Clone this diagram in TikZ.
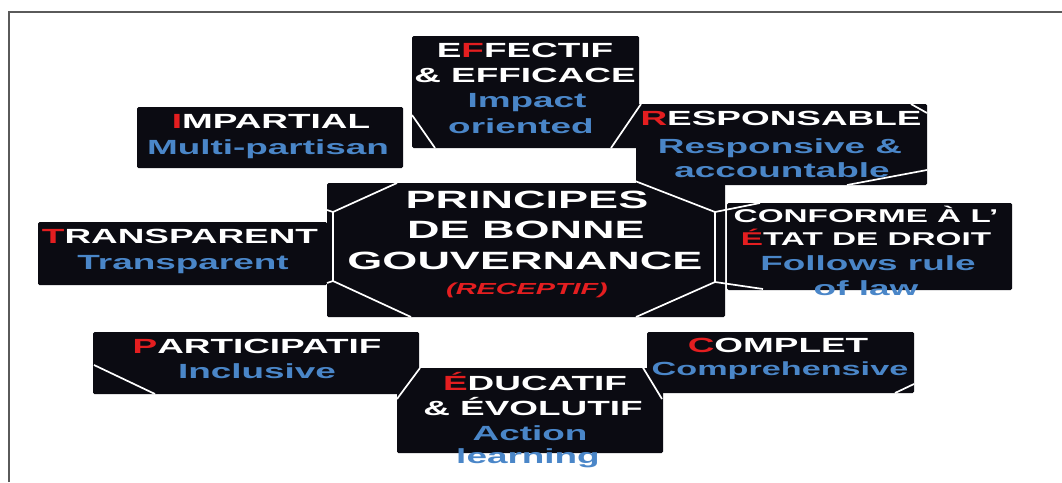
\documentclass[tikz,border=0pt]{standalone}
\usepackage{fontspec}
\setmainfont{Liberation Sans}[FakeStretch=1.8]
\usetikzlibrary{positioning}

\definecolor{boxblack}{HTML}{0B0B12}
\definecolor{engblue}{HTML}{4A86C8}
\definecolor{capred}{HTML}{E41E20}
\definecolor{framegray}{HTML}{5A5A5A}
\newcommand{\redcap}[1]{\textcolor{capred}{#1}}

\begin{document}
\begin{tikzpicture}[x=1pt, y=-1pt,
  box/.style={fill=boxblack, draw=none, inner sep=0pt, rounded corners=1.5pt},
  cut/.style={draw=white, line width=1.7pt},
  fr/.style={text=white, anchor=base, inner sep=0pt, font=\bfseries\fontsize{20.5}{24}\selectfont},
  en/.style={fr, text=engblue},
  big/.style={fr, font=\bfseries\fontsize{25}{30}\selectfont}]
\useasboundingbox (0,0) rectangle (1062,482);
\draw[framegray, line width=1.6pt] (9,482) -- (9,12) -- (1062,12);

% black boxes
\node[box, minimum width=266pt, minimum height=61pt]  (impartial)    at (270,137.5) {};
\node[box, minimum width=227pt, minimum height=112pt] (effectif)     at (525.5,92)  {};
\node[box, minimum width=291pt, minimum height=81pt]  (responsable)  at (781.5,144.5) {};
\node[box, minimum width=398pt, minimum height=134pt] (principes)    at (526,250)   {};
\node[box, minimum width=289pt, minimum height=63pt]  (transparent)  at (182.5,253.5) {};
\node[box, minimum width=285pt, minimum height=87pt]  (conforme)     at (869.5,246.5) {};
\node[box, minimum width=326pt, minimum height=62pt]  (participatif) at (256,363)   {};
\node[box, minimum width=267pt, minimum height=61pt]  (complet)      at (780.5,362.5) {};
\node[box, minimum width=266pt, minimum height=85pt]  (educatif)     at (530,410.5) {};

% octagon
\coordinate (o1) at (397,183);
\coordinate (o2) at (333,212);
\coordinate (o3) at (333,281);
\coordinate (o4) at (411,317);
\coordinate (o5) at (636,317);
\coordinate (o6) at (715,282);
\coordinate (o7) at (715,212);
\coordinate (o8) at (635,181);
\draw[cut] (o1) -- (o2) -- (o3) -- (o4);
\draw[cut] (o5) -- (o6) -- (o7) -- (o8);
\draw[cut] (o2) -- (327,210);
\draw[cut] (o3) -- (327,283);
\draw[cut] (o7) -- (760,203);
\draw[cut] (o6) -- (763,289);

% corner cuts
\draw[cut] (412,115) -- (435,148);
\draw[cut] (611,148) -- (641,104);
\draw[cut] (911,104) -- (927,113);
\draw[cut] (847,185) -- (927,170);
\draw[cut] (94,365) -- (155,394);
\draw[cut] (397,399) -- (420,368);
\draw[cut] (642,366) -- (662,399);
\draw[cut] (895,393) -- (914,384);

% texts
\node[fr] (eff1) at (525,57)  {E\redcap{F}FECTIF};
\node[fr] (eff2) at (525,82)  {\& EFFICACE};
\node[en] (eff3) at (527,107) {Impact};
\node[en] (eff4) at (521,133) {oriented};

\node[fr] (imp1) at (271,128) {\redcap{I}MPARTIAL};
\node[en] (imp2) at (268,154) {Multi-partisan};

\node[fr] (res1) at (781,125) {\redcap{R}ESPONSABLE};
\node[en] (res2) at (780,153) {Responsive \&};
\node[en] (res3) at (782,177) {accountable};

\node[big] (pri1) at (527,208) {PRINCIPES};
\node[big] (pri2) at (526,238) {DE BONNE};
\node[big] (pri3) at (525,269) {GOUVERNANCE};
\node[fr, text=capred, font=\bfseries\itshape\fontsize{16}{20}\selectfont] (pri4) at (527,294) {(RECEPTIF)};

\node[fr] (tra1) at (180,243) {\redcap{T}RANSPARENT};
\node[en] (tra2) at (183,269) {Transparent};

\node[fr, font=\bfseries\fontsize{18.5}{22}\selectfont] (con1) at (866,222) {CONFORME À L’};
\node[fr, font=\bfseries\fontsize{18.5}{22}\selectfont] (con2) at (866,245) {\redcap{É}TAT DE DROIT};
\node[en] (con3) at (868,270) {Follows rule};
\node[en] (con4) at (866,295) {of law};

\node[fr] (par1) at (257,353) {\redcap{P}ARTICIPATIF};
\node[en] (par2) at (257,378) {Inclusive};

\node[fr] (com1) at (778,352) {\redcap{C}OMPLET};
\node[en, font=\bfseries\fontsize{19}{23}\selectfont] (com2) at (780,375) {Comprehensive};

\node[fr] (edu1) at (535,390) {\redcap{É}DUCATIF};
\node[fr] (edu2) at (533,415) {\& ÉVOLUTIF};
\node[en] (edu3) at (530,440) {Action};
\node[en] (edu4) at (528,463) {learning};
\end{tikzpicture}
\end{document}
